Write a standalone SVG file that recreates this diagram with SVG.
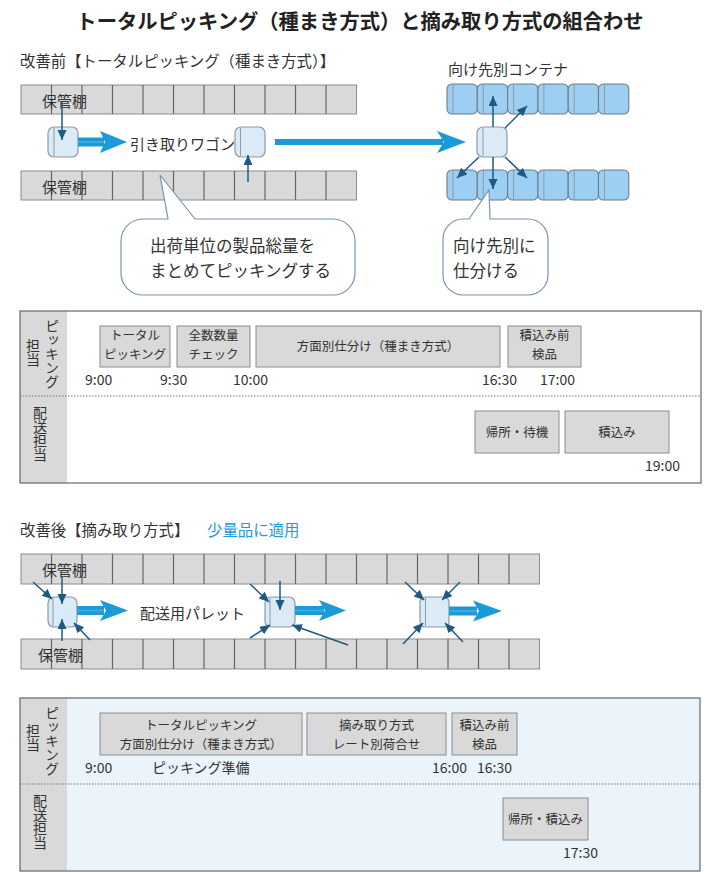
<svg xmlns="http://www.w3.org/2000/svg" width="720" height="878" viewBox="0 0 720 878">
<style>
text{font-family:"Noto Sans CJK JP","Noto Sans",sans-serif;fill:#333}
.title{font-size:20.3px;font-weight:bold;fill:#222}
.h{font-size:15.4px}
.lb{font-size:15px}
.co{font-size:16.5px}
.bx{font-size:12.5px;text-anchor:middle}
.tm{font-size:14px}
.vt{font-size:14px;writing-mode:vertical-rl}
.shelf{fill:#d9d9d9;stroke:#8c8c8c;stroke-width:1}
.div{stroke:#666;stroke-width:1.2}
.cart{fill:#dbeaf7;stroke:#8e9aa6;stroke-width:1.2}
.cline{stroke:#8e9aa6;stroke-width:1}
.cont{fill:#9dcff2;stroke:#6d7b86;stroke-width:1.1}
.dk{stroke:#1d5b82;stroke-width:1.5;fill:none;marker-end:url(#ah)}
.blue{fill:#1a9ad6}
.stripe{stroke:#3eaae0;stroke-width:2}
.tbox{fill:#d9d9d9;stroke:#8c8c8c;stroke-width:1}
.frame{stroke:#666;stroke-width:1.2}
.dot{stroke:#777;stroke-width:1;stroke-dasharray:1.5 1.5}
.bub{fill:#fff;stroke:#7894ad;stroke-width:1.2}
</style>
<defs>
<marker id="ah" markerUnits="userSpaceOnUse" markerWidth="11" markerHeight="10" refX="10" refY="4.5" orient="auto">
<path d="M0,0 L10,4.5 L0,9 z" fill="#1d5b82"/>
</marker>
</defs>

<text class="title" x="360" y="29" text-anchor="middle">トータルピッキング（種まき方式）と摘み取り方式の組合わせ</text>

<!-- ===== Before section ===== -->
<text class="h" x="20" y="67">改善前【トータルピッキング（種まき方式）】</text>

<g id="shelf-top-1">
<rect class="shelf" x="21" y="85" width="335.5" height="29"/>
<g class="div">
<line x1="51.5" y1="85" x2="51.5" y2="114"/><line x1="82" y1="85" x2="82" y2="114"/><line x1="112.5" y1="85" x2="112.5" y2="114"/><line x1="143" y1="85" x2="143" y2="114"/><line x1="173.5" y1="85" x2="173.5" y2="114"/><line x1="204" y1="85" x2="204" y2="114"/><line x1="234.5" y1="85" x2="234.5" y2="114"/><line x1="265" y1="85" x2="265" y2="114"/><line x1="295.5" y1="85" x2="295.5" y2="114"/><line x1="326" y1="85" x2="326" y2="114"/>
</g>
<text class="lb" x="42" y="107">保管棚</text>
</g>

<g id="shelf-bottom-1">
<rect class="shelf" x="21" y="171" width="335.5" height="29"/>
<g class="div">
<line x1="51.5" y1="171" x2="51.5" y2="200"/><line x1="82" y1="171" x2="82" y2="200"/><line x1="112.5" y1="171" x2="112.5" y2="200"/><line x1="143" y1="171" x2="143" y2="200"/><line x1="173.5" y1="171" x2="173.5" y2="200"/><line x1="204" y1="171" x2="204" y2="200"/><line x1="234.5" y1="171" x2="234.5" y2="200"/><line x1="265" y1="171" x2="265" y2="200"/><line x1="295.5" y1="171" x2="295.5" y2="200"/><line x1="326" y1="171" x2="326" y2="200"/>
</g>
<text class="lb" x="42" y="193">保管棚</text>
</g>

<g id="wagon-1">
<rect class="cart" x="48" y="127" width="30" height="30" rx="6"/>
<line class="cline" x1="54" y1="128" x2="54" y2="156"/>
</g>
<g id="wagon-2">
<rect class="cart" x="235" y="127" width="30" height="30" rx="6"/>
<line class="cline" x1="240.5" y1="128" x2="240.5" y2="156"/>
</g>
<text class="lb" x="130" y="150">引き取りワゴン</text>

<text class="lb" x="448" y="75">向け先別コンテナ</text>
<g id="containers-top">
<rect class="cont" x="447" y="84" width="30.3" height="30" rx="5"/><line class="cline" x1="453" y1="84" x2="453" y2="114"/>
<rect class="cont" x="477.3" y="84" width="30.3" height="30" rx="5"/><line class="cline" x1="483.3" y1="84" x2="483.3" y2="114"/>
<rect class="cont" x="507.6" y="84" width="30.3" height="30" rx="5"/><line class="cline" x1="513.6" y1="84" x2="513.6" y2="114"/>
<rect class="cont" x="537.9" y="84" width="30.3" height="30" rx="5"/><line class="cline" x1="543.9" y1="84" x2="543.9" y2="114"/>
<rect class="cont" x="568.2" y="84" width="30.3" height="30" rx="5"/><line class="cline" x1="574.2" y1="84" x2="574.2" y2="114"/>
<rect class="cont" x="598.5" y="84" width="30.3" height="30" rx="5"/><line class="cline" x1="604.5" y1="84" x2="604.5" y2="114"/>
</g>
<g id="containers-bottom">
<rect class="cont" x="447" y="170" width="30.3" height="30" rx="5"/><line class="cline" x1="453" y1="170" x2="453" y2="200"/>
<rect class="cont" x="477.3" y="170" width="30.3" height="30" rx="5"/><line class="cline" x1="483.3" y1="170" x2="483.3" y2="200"/>
<rect class="cont" x="507.6" y="170" width="30.3" height="30" rx="5"/><line class="cline" x1="513.6" y1="170" x2="513.6" y2="200"/>
<rect class="cont" x="537.9" y="170" width="30.3" height="30" rx="5"/><line class="cline" x1="543.9" y1="170" x2="543.9" y2="200"/>
<rect class="cont" x="568.2" y="170" width="30.3" height="30" rx="5"/><line class="cline" x1="574.2" y1="170" x2="574.2" y2="200"/>
<rect class="cont" x="598.5" y="170" width="30.3" height="30" rx="5"/><line class="cline" x1="604.5" y1="170" x2="604.5" y2="200"/>
</g>
<g id="wagon-center">
<rect class="cart" x="477" y="127" width="30" height="30" rx="6"/>
<line class="cline" x1="483" y1="128" x2="483" y2="156"/>
</g>

<g id="callout-1">
<path class="bub" d="M143,219 L168,219 L160,175 L195,219 L333,219 A22,22 0 0 1 355,241 L355,273 A22,22 0 0 1 333,295 L143,295 A22,22 0 0 1 121,273 L121,241 A22,22 0 0 1 143,219 Z"/>
<text class="co" x="150" y="252">出荷単位の製品総量を</text>
<text class="co" x="150" y="277">まとめてピッキングする</text>
</g>
<g id="callout-2">
<path class="bub" d="M463,219 L469,219 L489,190 L490,219 L528,219 A20,20 0 0 1 548,239 L548,275 A20,20 0 0 1 528,295 L463,295 A20,20 0 0 1 443,275 L443,239 A20,20 0 0 1 463,219 Z"/>
<text class="co" x="453" y="252">向け先別に</text>
<text class="co" x="453" y="277">仕分ける</text>
</g>

<g id="connectors-before">
<rect class="blue" x="78" y="137.5" width="26" height="9"/>
<line class="stripe" x1="78" y1="142" x2="104" y2="142"/>
<polygon class="blue" points="100,131 127,142 100,153 105,142"/>
<rect class="blue" x="275" y="139" width="168" height="6"/>
<polygon class="blue" points="437,131 466,142 437,153 444,142"/>
<line class="dk" x1="62" y1="101" x2="62" y2="140"/>
<line class="dk" x1="248" y1="182" x2="248" y2="155"/>
<line class="dk" x1="493" y1="127" x2="493" y2="96"/>
<line class="dk" x1="505" y1="128" x2="527" y2="106"/>
<line class="dk" x1="479" y1="157" x2="457" y2="178"/>
<line class="dk" x1="493" y1="157" x2="493" y2="189"/>
<line class="dk" x1="505" y1="157" x2="527" y2="178"/>
</g>

<!-- ===== Timeline 1 ===== -->
<g id="timeline-1">
<rect x="20" y="311" width="681" height="172" fill="#fff"/>
<rect x="20" y="311" width="47" height="172" fill="#d9d9d9"/>
<line class="dot" x1="20" y1="396" x2="701" y2="396"/>
<rect x="20" y="311" width="681" height="172" fill="none" class="frame"/>
<text class="vt" x="52" y="319">ピッキング</text>
<text class="vt" x="33" y="339">担当</text>
<text class="vt" x="40" y="406">配送担当</text>
</g>
<g id="t1-total"><rect class="tbox" x="100" y="326" width="70" height="41"/><text class="bx" x="135" y="340">トータル</text><text class="bx" x="135" y="358.5">ピッキング</text></g>
<g id="t1-check"><rect class="tbox" x="177" y="326" width="73" height="41"/><text class="bx" x="213.5" y="340">全数数量</text><text class="bx" x="213.5" y="358.5">チェック</text></g>
<g id="t1-sort"><rect class="tbox" x="256" y="326" width="244" height="41"/><text class="bx" x="378" y="351">方面別仕分け（種まき方式）</text></g>
<g id="t1-inspect"><rect class="tbox" x="508" y="326" width="73" height="41"/><text class="bx" x="544.5" y="340">積込み前</text><text class="bx" x="544.5" y="358.5">検品</text></g>
<g id="t1-wait"><rect class="tbox" x="475" y="411" width="84" height="42"/><text class="bx" x="517" y="437">帰所・待機</text></g>
<g id="t1-load"><rect class="tbox" x="565" y="411" width="104" height="42"/><text class="bx" x="617" y="437">積込み</text></g>
<text class="tm" x="85" y="385">9:00</text>
<text class="tm" x="160" y="385">9:30</text>
<text class="tm" x="233" y="385">10:00</text>
<text class="tm" x="482" y="385">16:30</text>
<text class="tm" x="540" y="385">17:00</text>
<text class="tm" x="645" y="471">19:00</text>

<!-- ===== After section ===== -->
<text class="h" x="20" y="536">改善後【摘み取り方式】</text>
<text class="h" x="207" y="536" style="fill:#1a9ad6">少量品に適用</text>

<g id="shelf-top-2">
<rect class="shelf" x="21" y="554" width="518.5" height="30"/>
<g class="div">
<line x1="51.5" y1="554" x2="51.5" y2="584"/><line x1="82" y1="554" x2="82" y2="584"/><line x1="112.5" y1="554" x2="112.5" y2="584"/><line x1="143" y1="554" x2="143" y2="584"/><line x1="173.5" y1="554" x2="173.5" y2="584"/><line x1="204" y1="554" x2="204" y2="584"/><line x1="234.5" y1="554" x2="234.5" y2="584"/><line x1="265" y1="554" x2="265" y2="584"/><line x1="295.5" y1="554" x2="295.5" y2="584"/><line x1="326" y1="554" x2="326" y2="584"/><line x1="356.5" y1="554" x2="356.5" y2="584"/><line x1="387" y1="554" x2="387" y2="584"/><line x1="417.5" y1="554" x2="417.5" y2="584"/><line x1="448" y1="554" x2="448" y2="584"/><line x1="478.5" y1="554" x2="478.5" y2="584"/><line x1="509" y1="554" x2="509" y2="584"/>
</g>
<text class="lb" x="42" y="576">保管棚</text>
</g>
<g id="shelf-bottom-2">
<rect class="shelf" x="21" y="639" width="518.5" height="30"/>
<g class="div">
<line x1="51.5" y1="639" x2="51.5" y2="669"/><line x1="82" y1="639" x2="82" y2="669"/><line x1="112.5" y1="639" x2="112.5" y2="669"/><line x1="143" y1="639" x2="143" y2="669"/><line x1="173.5" y1="639" x2="173.5" y2="669"/><line x1="204" y1="639" x2="204" y2="669"/><line x1="234.5" y1="639" x2="234.5" y2="669"/><line x1="265" y1="639" x2="265" y2="669"/><line x1="295.5" y1="639" x2="295.5" y2="669"/><line x1="326" y1="639" x2="326" y2="669"/><line x1="356.5" y1="639" x2="356.5" y2="669"/><line x1="387" y1="639" x2="387" y2="669"/><line x1="417.5" y1="639" x2="417.5" y2="669"/><line x1="448" y1="639" x2="448" y2="669"/><line x1="478.5" y1="639" x2="478.5" y2="669"/><line x1="509" y1="639" x2="509" y2="669"/>
</g>
<text class="lb" x="38" y="661">保管棚</text>
</g>

<g id="pallet-1"><rect class="cart" x="48" y="597" width="29" height="30" rx="6"/><line class="cline" x1="53" y1="598" x2="53" y2="626"/></g>
<g id="pallet-2"><rect class="cart" x="265" y="597" width="30" height="30" rx="6"/><line class="cline" x1="270" y1="598" x2="270" y2="626"/></g>
<g id="pallet-3"><rect class="cart" x="420" y="597" width="29" height="30" rx="5"/><line class="cline" x1="425.5" y1="598" x2="425.5" y2="626"/></g>
<text class="lb" x="140" y="619">配送用パレット</text>

<g id="connectors-after">
<rect class="blue" x="77" y="606" width="27" height="9"/>
<line class="stripe" x1="77" y1="610.5" x2="104" y2="610.5"/>
<polygon class="blue" points="100,600 128,610.5 100,621 106,610.5"/>
<rect class="blue" x="295" y="606" width="29" height="9"/>
<line class="stripe" x1="295" y1="610.5" x2="324" y2="610.5"/>
<polygon class="blue" points="319,600 346,610.5 319,621 325,610.5"/>
<rect class="blue" x="449" y="606.5" width="28" height="9"/>
<line class="stripe" x1="449" y1="611" x2="477" y2="611"/>
<polygon class="blue" points="473,600.5 502,611 473,621.5 479,611"/>
<line class="dk" x1="33" y1="582" x2="52" y2="599"/>
<line class="dk" x1="62" y1="577" x2="62" y2="604"/>
<line class="dk" x1="62" y1="641" x2="62" y2="619"/>
<line class="dk" x1="90" y1="640" x2="74" y2="623"/>
<line class="dk" x1="250" y1="584" x2="269" y2="602"/>
<line class="dk" x1="280" y1="581" x2="280" y2="610"/>
<line class="dk" x1="250" y1="638" x2="270" y2="625"/>
<line class="dk" x1="348" y1="645" x2="292" y2="625"/>
<line class="dk" x1="405" y1="582" x2="424" y2="600"/>
<line class="dk" x1="460" y1="582" x2="442" y2="600"/>
<line class="dk" x1="403" y1="644" x2="423" y2="623"/>
<line class="dk" x1="463" y1="642" x2="445" y2="623"/>
</g>

<!-- ===== Timeline 2 ===== -->
<g id="timeline-2">
<rect x="20" y="698" width="680" height="173" fill="#ebf4fb"/>
<rect x="20" y="698" width="47" height="173" fill="#d9d9d9"/>
<line class="dot" x1="20" y1="784" x2="700" y2="784"/>
<rect x="20" y="698" width="680" height="173" fill="none" class="frame"/>
<text class="vt" x="52" y="706">ピッキング</text>
<text class="vt" x="33" y="724">担当</text>
<text class="vt" x="40" y="794">配送担当</text>
</g>
<g id="t2-total"><rect class="tbox" x="100" y="713" width="202" height="42"/><text class="bx" x="201" y="729.5">トータルピッキング</text><text class="bx" x="201" y="748.5">方面別仕分け（種まき方式）</text></g>
<g id="t2-pick"><rect class="tbox" x="307" y="713" width="139" height="42"/><text class="bx" x="376.5" y="729.5">摘み取り方式</text><text class="bx" x="376.5" y="748.5">レート別荷合せ</text></g>
<g id="t2-inspect"><rect class="tbox" x="452" y="713" width="65" height="42"/><text class="bx" x="484.5" y="729.5">積込み前</text><text class="bx" x="484.5" y="748.5">検品</text></g>
<g id="t2-load"><rect class="tbox" x="503" y="798" width="85" height="42"/><text class="bx" x="545.5" y="824">帰所・積込み</text></g>
<text class="tm" x="85" y="773">9:00</text>
<text class="tm" x="152" y="773">ピッキング準備</text>
<text class="tm" x="432" y="773">16:00</text>
<text class="tm" x="477" y="773">16:30</text>
<text class="tm" x="563" y="858">17:30</text>
</svg>
